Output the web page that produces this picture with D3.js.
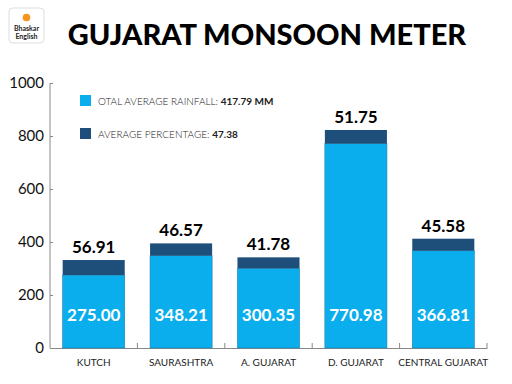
<!DOCTYPE html>
<html lang="en">
<head>
  <meta charset="UTF-8">
  <title>Gujarat Monsoon Meter</title>
  <script src="https://d3js.org/d3.v7.min.js"></script>
  <style>
    body { margin: 0; background: #fff; }
    svg text { font-family: Lato, "Open Sans", sans-serif; }
  </style>
</head>
<body>
<div id="chart-container"></div>
<script>
  // Chart data
  const regions = ['KUTCH', 'SAURASHTRA', 'A. GUJARAT', 'D. GUJARAT', 'CENTRAL GUJARAT'];
  const rainfall = [275.00, 348.21, 300.35, 770.98, 366.81];
  const percentage = [56.91, 46.57, 41.78, 51.75, 45.58];
  const yTicks = [0, 200, 400, 600, 800, 1000];
  const legendItems = [
    { label: 'OTAL AVERAGE RAINFALL: ', value: '417.79 MM' },
    { label: 'AVERAGE PERCENTAGE: ', value: '47.38' }
  ];

  const width = 512, height = 384;
  const margin = { top: 83, right: 25, bottom: 36, left: 50 };
  const innerH = height - margin.top - margin.bottom;

  const lightBlue = '#0baeec';
  const darkBlue = '#1d4f7a';

  const svg = d3.select('#chart-container')
    .append('svg')
    .attr('width', width)
    .attr('height', height);

  // Logo
  const logo = svg.append('g').attr('transform', 'translate(9,8)');
  logo.append('rect')
    .attr('width', 35).attr('height', 35).attr('rx', 4)
    .attr('fill', '#fff').attr('stroke', '#ddd');
  logo.append('circle').attr('cx', 17.5).attr('cy', 9.5).attr('r', 3.8).attr('fill', '#f7941d');
  logo.append('text').attr('x', 17.5).attr('y', 23).attr('text-anchor', 'middle')
    .attr('font-size', 7).attr('font-weight', 700).attr('fill', '#222').text('Bhaskar');
  logo.append('text').attr('x', 17.5).attr('y', 31).attr('text-anchor', 'middle')
    .attr('font-size', 7).attr('font-weight', 700).attr('fill', '#222').text('English');

  // Title
  svg.append('text')
    .attr('x', 267).attr('y', 45)
    .attr('text-anchor', 'middle')
    .attr('font-size', 29).attr('font-weight', 900)
    .attr('fill', '#000')
    .text('GUJARAT MONSOON METER');

  const g = svg.append('g')
    .attr('transform', `translate(${margin.left},${margin.top})`);

  const x = d3.scaleBand().domain(regions).range([0, 437]).paddingInner(0.29).paddingOuter(0.145);
  const y = d3.scaleLinear().domain([0, 1000]).range([innerH, 0]);

  // Y axis
  const yAxis = g.append('g')
    .call(d3.axisLeft(y).tickValues(yTicks).tickSize(-3).tickPadding(6).tickFormat(d3.format('d')));
  yAxis.select('.domain').attr('stroke', '#888').attr('d', `M0,${innerH}V${y(1000)}`);
  yAxis.selectAll('.tick line').attr('stroke', '#888');
  yAxis.selectAll('.tick text')
    .attr('font-size', 15).attr('fill', '#111')
    .style('font-family', 'Lato, sans-serif');

  // X axis
  const xAxis = g.append('g')
    .attr('transform', `translate(0,${innerH})`)
    .call(d3.axisBottom(x).tickSize(0).tickPadding(11));
  xAxis.select('.domain').attr('stroke', '#888');
  xAxis.selectAll('.tick text')
    .attr('font-size', 10).attr('fill', '#222')
    .style('font-family', 'Lato, sans-serif');
  // boundary ticks between bands
  g.append('g').selectAll('line')
    .data(regions)
    .join('line')
    .attr('x1', d => x(d) + x.bandwidth() + x.step() * x.paddingInner() / 2)
    .attr('x2', d => x(d) + x.bandwidth() + x.step() * x.paddingInner() / 2)
    .attr('y1', innerH).attr('y2', innerH - 5)
    .attr('stroke', '#888');

  // Bars
  const bars = g.append('g').selectAll('g')
    .data(regions.map((r, i) => ({ region: r, rain: rainfall[i], pct: percentage[i] })))
    .join('g');

  bars.append('rect')
    .attr('x', d => x(d.region))
    .attr('width', x.bandwidth())
    .attr('y', d => y(d.rain))
    .attr('height', d => y(0) - y(d.rain))
    .attr('fill', lightBlue)
    .attr('stroke', '#1a7fb0').attr('stroke-width', 0.6);

  bars.append('rect')
    .attr('x', d => x(d.region))
    .attr('width', x.bandwidth())
    .attr('y', d => y(d.rain + d.pct))
    .attr('height', d => y(d.rain) - y(d.rain + d.pct))
    .attr('fill', darkBlue);

  bars.append('text')
    .attr('x', d => x(d.region) + x.bandwidth() / 2)
    .attr('y', d => y(d.rain + d.pct) - 7)
    .attr('text-anchor', 'middle')
    .attr('font-size', 17).attr('font-weight', 700).attr('fill', '#000')
    .text(d => d.pct.toFixed(2));

  bars.append('text')
    .attr('x', d => x(d.region) + x.bandwidth() / 2)
    .attr('y', y(0) - 27)
    .attr('text-anchor', 'middle')
    .attr('font-size', 17).attr('font-weight', 700).attr('fill', '#fff')
    .text(d => d.rain.toFixed(2));

  // Legend
  const legend = svg.append('g').attr('transform', 'translate(80,95)');
  const colors = [lightBlue, darkBlue];
  legendItems.forEach((item, i) => {
    const row = legend.append('g').attr('transform', `translate(0,${i * 33})`);
    row.append('rect').attr('width', 11).attr('height', 11).attr('fill', colors[i]);
    const t = row.append('text').attr('x', 18).attr('y', 9.5).attr('font-size', 10).attr('fill', '#222');
    t.append('tspan').attr('font-weight', 300).text(item.label);
    t.append('tspan').attr('font-weight', 700).text(item.value);
  });
</script>
</body>
</html>
